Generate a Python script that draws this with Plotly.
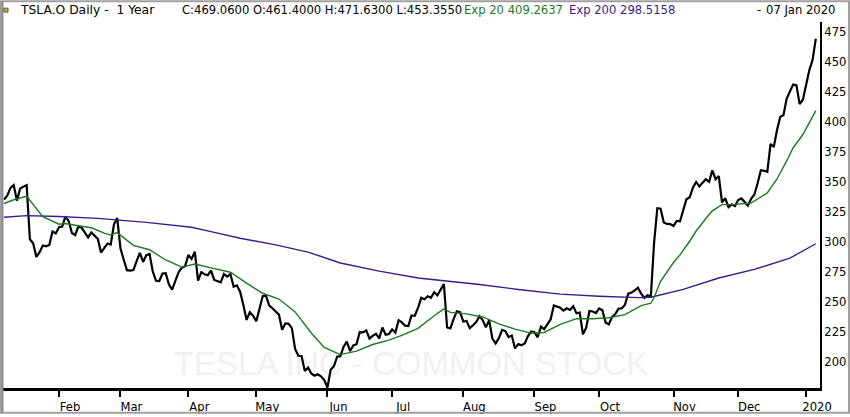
import plotly.graph_objects as go
import pandas as pd

# trading calendar (weekends and NYSE holidays are skipped on the axis)
holidays = ["2019-01-21", "2019-02-18", "2019-04-19", "2019-05-27", "2019-07-04",
            "2019-09-02", "2019-11-28", "2019-12-25", "2020-01-01"]
days = pd.bdate_range("2019-01-08", "2020-01-07", freq="C", holidays=holidays)

# daily closes, Jan 8 2019 .. Jan 7 2020
close = [
    335.35, 338.53, 344.97, 347.26, 334.40, 344.43, 346.05, 347.31, 302.26, 298.92,
    287.59, 291.51, 297.04, 296.38, 297.46, 308.77, 307.02,
    312.21, 312.89, 321.35, 317.22, 307.51, 305.80, 312.84, 311.81, 308.17, 303.77,
    307.88, 305.62, 302.56, 291.23, 294.71, 298.77, 297.86, 314.74, 319.88,
    294.79, 285.36, 276.54, 276.24, 276.59, 284.14, 290.92, 283.36, 288.96, 289.96,
    275.43, 267.70, 267.53, 273.72, 274.02, 264.53, 260.42, 267.77, 274.83, 278.62, 279.86,
    289.18, 285.88, 291.81, 267.78, 274.96, 273.20, 272.31, 276.06, 268.42, 267.70,
    266.38, 273.36, 271.23, 273.26, 262.75, 263.90, 258.66, 247.63, 235.14, 241.47, 238.69,
    234.01, 244.10, 255.03, 255.34, 247.06, 244.84, 241.98, 239.52, 227.01, 232.31,
    231.95, 228.33, 211.03, 205.36, 205.08, 192.73, 195.49, 190.63, 188.70, 189.86,
    188.22, 185.16,
    178.97, 193.60, 196.59, 204.50, 204.95, 212.88, 217.10, 209.26, 213.91, 214.92,
    225.03, 224.74, 226.43, 219.62, 221.86, 223.64, 219.76, 228.80, 222.84, 223.46,
    227.17, 224.55, 234.90, 233.10, 230.34, 230.06, 238.92, 238.60, 245.08, 253.50,
    252.38, 254.86, 253.54, 258.18, 255.68, 260.17, 264.88, 228.82, 228.04, 235.77,
    242.26, 241.61,
    233.85, 234.34, 228.32, 230.75, 233.42, 238.30, 235.01, 229.01, 235.00, 219.62,
    215.64, 219.94, 226.83, 225.86, 220.83, 222.15, 211.40, 215.00, 214.08, 215.59,
    221.71, 225.61,
    225.01, 220.68, 229.58, 227.45, 231.79, 235.54, 247.10, 245.87, 245.20, 242.81,
    244.79, 243.49, 246.60, 240.62, 241.23, 223.21, 228.70, 242.56, 242.13, 240.87,
    244.69, 243.13, 233.03, 231.43, 237.72, 240.05, 244.53, 244.74, 247.89, 256.96,
    257.89, 259.75, 261.97, 256.95, 253.50, 255.58, 254.68, 299.68, 328.13, 327.71,
    316.22, 315.01, 314.92,
    313.31, 317.47, 317.22, 326.58, 335.54, 337.14, 345.09, 349.93, 346.11, 349.35,
    352.17, 349.99, 359.52, 352.22, 354.83, 333.04, 336.34, 328.92, 331.29, 329.94,
    334.87, 336.20, 333.03, 330.37, 335.89, 339.53, 348.84, 359.68, 359.22, 358.39,
    381.50, 378.99, 393.15, 404.04, 405.59, 419.22, 425.25, 430.94, 430.38, 414.70, 418.33,
    430.26, 443.01, 451.54, 469.06,
]

# Exp 20
ema20_dates = [
    "2019-01-08", "2019-01-11", "2019-01-17", "2019-01-18", "2019-01-23", "2019-01-25",
    "2019-02-01", "2019-02-05", "2019-02-08", "2019-02-15", "2019-02-22", "2019-02-26",
    "2019-02-28", "2019-03-07", "2019-03-14", "2019-03-21", "2019-03-28", "2019-04-03",
    "2019-04-10", "2019-04-18", "2019-04-26", "2019-05-03", "2019-05-10", "2019-05-17",
    "2019-05-24", "2019-05-31", "2019-06-07", "2019-06-14", "2019-06-21", "2019-06-28",
    "2019-07-05", "2019-07-12", "2019-07-19", "2019-07-24", "2019-07-26", "2019-08-02",
    "2019-08-09", "2019-08-16", "2019-08-23", "2019-08-30", "2019-09-06", "2019-09-13",
    "2019-09-20", "2019-09-27", "2019-10-04", "2019-10-11", "2019-10-18", "2019-10-23",
    "2019-10-24", "2019-10-25", "2019-10-28", "2019-11-01", "2019-11-05", "2019-11-08",
    "2019-11-12", "2019-11-15", "2019-11-19", "2019-11-22", "2019-11-29", "2019-12-06",
    "2019-12-13", "2019-12-16", "2019-12-18", "2019-12-23", "2019-12-26", "2019-12-31",
    "2020-01-07",
]
ema20_vals = [
    332.0, 335.1, 337.9, 334.5, 327.0, 321.1,
    314.8, 315.3, 313.9, 311.8, 307.3, 305.7,
    307.8, 297.2, 293.5, 285.0, 279.1, 281.7,
    278.4, 274.8, 265.7, 257.3, 252.5, 241.8,
    224.3, 212.3, 206.3, 209.2, 214.7, 218.3,
    222.2, 228.1, 238.6, 244.3, 241.4, 240.2,
    237.6, 231.9, 227.5, 224.2, 224.7, 231.5,
    236.2, 236.1, 236.9, 239.5, 247.1, 249.0,
    253.8, 260.9, 267.3, 282.9, 289.2, 300.6,
    309.1, 319.5, 325.9, 331.1, 331.3, 332.4,
    340.8, 344.8, 352.4, 367.4, 378.4, 389.4,
    409.26,
]

# Exp 200
ema200_dates = [
    "2019-01-08", "2019-01-17", "2019-02-01", "2019-02-20", "2019-03-13", "2019-04-02",
    "2019-04-10", "2019-04-24", "2019-05-09", "2019-05-23", "2019-06-07", "2019-06-25",
    "2019-07-12", "2019-07-19", "2019-08-08", "2019-08-26", "2019-09-13", "2019-10-01",
    "2019-10-17", "2019-10-23", "2019-11-06", "2019-11-21", "2019-12-09", "2019-12-24",
    "2020-01-07",
]
ema200_vals = [
    320.6, 321.9, 321.2, 319.6, 316.3, 312.2,
    308.6, 303.1, 297.6, 291.6, 282.5, 275.7,
    270.0, 268.6, 264.6, 260.5, 256.6, 254.8,
    253.7, 254.0, 260.5, 270.0, 277.2, 286.6,
    298.52,
]

tick_dates = ["2019-02-01", "2019-03-01", "2019-04-01", "2019-05-01", "2019-06-03",
              "2019-07-01", "2019-08-01", "2019-09-03", "2019-10-01", "2019-11-01",
              "2019-12-02", "2020-01-02"]
tick_labels = ["Feb", "Mar", "Apr", "May", "Jun", "Jul", "Aug", "Sep", "Oct", "Nov",
               "Dec", "2020"]
price_ticks = [200, 225, 250, 275, 300, 325, 350, 375, 400, 425, 450, 475]

W, H = 850, 417
ML, MR, MT, MB = 3, 30, 22, 26
PW, PH = W - ML - MR, H - MT - MB


def px(x):
    return (x - ML) / PW


def py(y):
    return (H - MB - y) / PH


FONT = "DejaVu Sans"
GREEN = "#1d7a1d"
PURPLE = "#3a1d8c"

fig = go.Figure()
fig.add_trace(go.Scatter(x=days, y=close, mode="lines",
                         line=dict(color="black", width=2.2)))
fig.add_trace(go.Scatter(x=ema200_dates, y=ema200_vals, mode="lines",
                         line=dict(color=PURPLE, width=1.4)))
fig.add_trace(go.Scatter(x=ema20_dates, y=ema20_vals, mode="lines",
                         line=dict(color=GREEN, width=1.4)))

# header line: (text, pixel x, colour, anchor, size)
header = [
    ("TSLA.O Daily -&nbsp;&nbsp;1 Year", 18, "black", "left", 12.3),
    ("C:469.0600 O:461.4000 H:471.6300 L:453.3550", 180, "black", "left", 11.6),
    ("Exp 20 409.2637", 462, GREEN, "left", 11.6),
    ("Exp 200 298.5158", 567, PURPLE, "left", 11.6),
    ("-", 755, "black", "left", 11.6),
    ("07 Jan 2020", 838, "black", "right", 11.6),
]
annotations = []
for text, x, color, anchor, size in header:
    annotations.append(dict(text=text, x=px(x), y=py(10), xref="paper", yref="paper",
                            xanchor=anchor, yanchor="middle", showarrow=False,
                            font=dict(family=FONT, size=size, color=color)))

shapes = [
    # watermark
    dict(type="rect", xref="paper", yref="paper", layer="below",
         x0=px(151), x1=px(671), y0=py(384), y1=py(342), line=dict(width=0),
         label=dict(text="TESLA INC - COMMON STOCK", textposition="middle center",
                    font=dict(family="Liberation Sans", size=33, color="#f1f1f1"))),
    # outer frame
    dict(type="rect", xref="paper", yref="paper",
         x0=px(1), x1=px(849), y0=py(416), y1=py(1),
         line=dict(color="#a0a0a0", width=2)),
    dict(type="line", xref="paper", yref="paper",
         x0=px(2.5), x1=px(2.5), y0=py(416), y1=py(1),
         line=dict(color="#8c8c8c", width=2)),
    # little header icon
    dict(type="rect", xref="paper", yref="paper",
         x0=px(4), x1=px(8), y0=py(12), y1=py(8),
         line=dict(color="#5a5a20", width=1), fillcolor="#c8b040"),
]

fig.update_layout(
    width=W, height=H,
    margin=dict(l=ML, r=MR, t=MT, b=MB),
    paper_bgcolor="white", plot_bgcolor="white",
    showlegend=False,
    annotations=annotations,
    shapes=shapes,
    font=dict(family=FONT, size=11.6, color="black"),
)
fig.update_xaxes(
    type="date",
    range=["2019-01-07 16:30", "2020-01-08 07:00"],
    rangebreaks=[dict(bounds=["sat", "mon"]), dict(values=holidays)],
    tickvals=tick_dates, ticktext=tick_labels,
    ticks="outside", ticklen=6, tickwidth=2, tickcolor="black",
    ticklabelshift=11,
    showline=True, linecolor="black", linewidth=2.5,
    showgrid=False, zeroline=False,
    tickfont=dict(family=FONT, size=11.6, color="black"),
)
fig.update_yaxes(
    side="right",
    range=[178.5, 483],
    tickvals=price_ticks,
    ticks="", showline=True, linecolor="black", linewidth=2,
    showgrid=False, zeroline=False,
    tickfont=dict(family=FONT, size=11.6, color="black"),
)

# the page body has a default 8px margin; drop it so the figure sits at 0,0
fig.write_html("out.html", config={"displayModeBar": False},
               post_script="document.body.style.margin='0';")
